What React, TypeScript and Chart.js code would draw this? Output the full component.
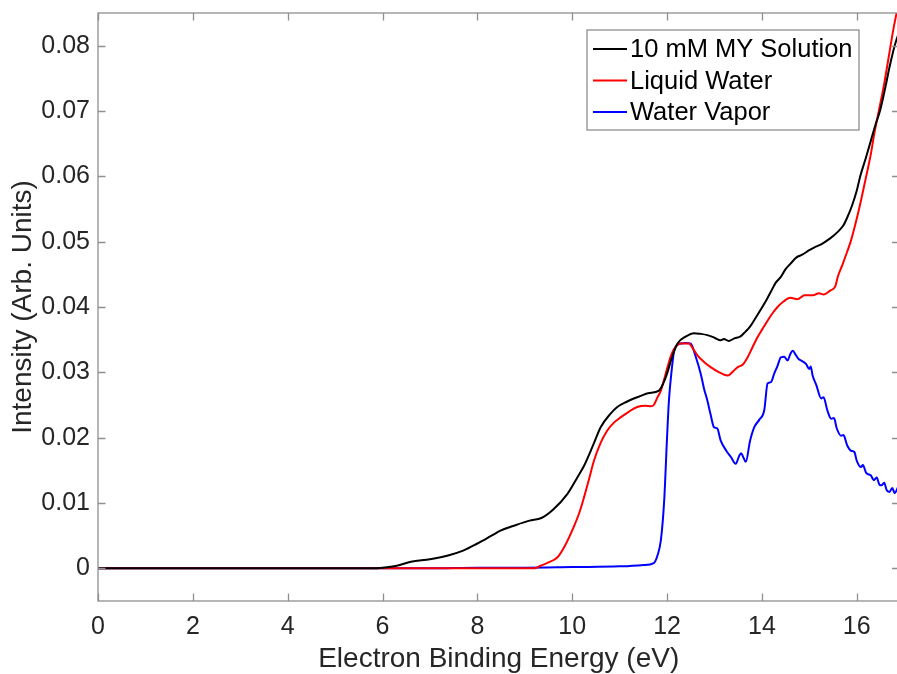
import React, { useEffect, useRef } from 'react';
import { Chart, registerables } from 'chart.js';

Chart.register(...registerables);

const X_TICKS = [0, 2, 4, 6, 8, 10, 12, 14, 16];
const Y_TICKS = [0, 0.01, 0.02, 0.03, 0.04, 0.05, 0.06, 0.07, 0.08];
const X_MIN = 0;
const X_MAX = 16.9;
const Y_MIN = -0.005;
const Y_MAX = 0.085;

const SERIES_LABELS = ['10 mM MY Solution', 'Liquid Water', 'Water Vapor'];
const SERIES_COLORS = ['#000000', '#ff0000', '#0000ff'];

const SOLUTION_X = [
  0, 1, 2, 3, 4, 5, 5.8, 6.0, 6.3, 6.6, 7.0, 7.4, 7.7, 8.0, 8.3, 8.5, 8.8, 9.1, 9.35, 9.6,
  9.9, 10.1, 10.25, 10.45, 10.6, 10.8, 10.95, 11.15, 11.3, 11.45, 11.6, 11.83, 11.92, 12.0,
  12.1, 12.22, 12.4, 12.57, 12.7, 12.85, 13.0, 13.13, 13.2, 13.3, 13.42, 13.55, 13.65, 13.75,
  13.84, 13.95, 14.09, 14.2, 14.3, 14.4, 14.5, 14.6, 14.73, 14.85, 15.0, 15.1, 15.25, 15.44,
  15.6, 15.72, 15.8, 15.9, 16.0, 16.07, 16.2, 16.3, 16.4, 16.49, 16.6, 16.7, 16.8, 16.9,
];
const SOLUTION_Y = [
  0, 0, 0, 0, 0, 0, 0, 0.0001, 0.0004, 0.001, 0.0014, 0.002, 0.0027, 0.0038, 0.005, 0.0058,
  0.0066, 0.0073, 0.0077, 0.009, 0.0114, 0.0138, 0.0157, 0.019, 0.0216, 0.0236, 0.0247, 0.0255,
  0.026, 0.0264, 0.0268, 0.0272, 0.0283, 0.0298, 0.0322, 0.0344, 0.0355, 0.036, 0.0359, 0.0357,
  0.0353, 0.0349, 0.0351, 0.0348, 0.0352, 0.0355, 0.0362, 0.037, 0.038, 0.0393, 0.041, 0.0425,
  0.0438, 0.0446, 0.0458, 0.0466, 0.0476, 0.048, 0.0487, 0.0491, 0.0496, 0.0505, 0.0515,
  0.0525, 0.0537, 0.0555, 0.0578, 0.0599, 0.063, 0.0655, 0.068, 0.07, 0.0735, 0.077, 0.08,
  0.0822,
];

const LIQUID_X = [
  0, 1, 2, 3, 4, 5, 6, 7, 8, 9, 9.2, 9.33, 9.5, 9.69, 9.85, 10.03, 10.15, 10.25, 10.36, 10.46,
  10.6, 10.74, 10.88, 11.02, 11.2, 11.37, 11.55, 11.66, 11.72, 11.8, 11.87, 11.95, 12.01, 12.08,
  12.15, 12.29, 12.46, 12.55, 12.64, 12.78, 12.92, 13.1, 13.28, 13.4, 13.49, 13.6, 13.7, 13.8,
  13.91, 14.0, 14.12, 14.22, 14.33, 14.45, 14.6, 14.75, 14.9, 15.08, 15.2, 15.3, 15.44, 15.55,
  15.6, 15.7, 15.8, 15.88, 16.0, 16.09, 16.2, 16.3, 16.37, 16.48, 16.58, 16.68, 16.78, 16.9,
];
const LIQUID_Y = [
  0, 0, 0, 0, 0, 0, 0, 0, 0, 0, 0, 0.0004, 0.0009, 0.0017, 0.0035, 0.0063, 0.0085, 0.0109,
  0.0138, 0.0165, 0.0192, 0.0211, 0.0223, 0.0231, 0.024, 0.0247, 0.0249, 0.0248, 0.025, 0.0262,
  0.0272, 0.0292, 0.0308, 0.0325, 0.0336, 0.0344, 0.0344, 0.0336, 0.0326, 0.0316, 0.0308, 0.03,
  0.0295, 0.0302, 0.0308, 0.0312, 0.0323, 0.0338, 0.0354, 0.0365, 0.0379, 0.039, 0.04, 0.0408,
  0.0414, 0.0412, 0.0418, 0.0418, 0.0421, 0.0419, 0.0425, 0.0432, 0.0446, 0.0465, 0.0485,
  0.0502, 0.0535, 0.0563, 0.06, 0.0635, 0.0665, 0.0705, 0.0742, 0.0785, 0.0828, 0.087,
];

const VAPOR_X = [
  0, 1, 2, 3, 4, 5, 6, 7, 8, 9, 10, 11, 11.5, 11.72, 11.8, 11.87, 11.94, 12.0, 12.04, 12.1,
  12.15, 12.22, 12.29, 12.4, 12.5, 12.6, 12.71, 12.78, 12.85, 12.92, 12.99, 13.06, 13.13, 13.25,
  13.35, 13.45, 13.52, 13.56, 13.62, 13.66, 13.75, 13.84, 13.95, 14.05, 14.12, 14.19, 14.26,
  14.33, 14.4, 14.47, 14.54, 14.6, 14.65, 14.72, 14.78, 14.83, 14.93, 15.0, 15.03, 15.07, 15.15,
  15.25, 15.3, 15.38, 15.46, 15.52, 15.58, 15.67, 15.72, 15.8, 15.88, 15.95, 16.0, 16.09, 16.13,
  16.2, 16.3, 16.36, 16.42, 16.48, 16.52, 16.58, 16.63, 16.69, 16.75, 16.8, 16.87, 16.9,
];
const VAPOR_Y = [
  0, 0, 0, 0, 0, 0, 0, 0, 0.0001, 0.0001, 0.0002, 0.0003, 0.0005, 0.0008, 0.002, 0.0043, 0.0104,
  0.02, 0.0257, 0.0305, 0.0333, 0.0342, 0.0344, 0.0345, 0.0344, 0.0325, 0.0298, 0.0275, 0.0257,
  0.0235, 0.0216, 0.0214, 0.0196, 0.018, 0.017, 0.016, 0.0172, 0.0176, 0.0168, 0.0163, 0.0195,
  0.0216, 0.0228, 0.0242, 0.0283, 0.0285, 0.0298, 0.031, 0.0323, 0.0324, 0.0318, 0.0328, 0.0333,
  0.0326, 0.032, 0.0318, 0.0313, 0.0305, 0.0309, 0.0295, 0.028, 0.026, 0.0262, 0.0242, 0.0229,
  0.023, 0.0214, 0.0203, 0.0204, 0.0188, 0.018, 0.0178, 0.0165, 0.0155, 0.0158, 0.0146, 0.0142,
  0.0135, 0.0139, 0.0128, 0.0127, 0.0131, 0.012, 0.0117, 0.0123, 0.0115, 0.0124, 0.0128,
];

const FONT = '"Liberation Sans", Arial, Helvetica, sans-serif';
const TEXT_COLOR = '#262626';
const FRAME_COLOR = '#8f8f8f';

const toPoints = (xs: number[], ys: number[]) => xs.map((x, i) => ({ x, y: ys[i] }));

const framePlugin = {
  id: 'matlabFrame',
  afterDatasetsDraw(chart: any) {
    const { ctx, chartArea: a, scales } = chart;
    ctx.save();
    ctx.strokeStyle = FRAME_COLOR;
    ctx.lineWidth = 1.3;
    ctx.strokeRect(a.left, a.top, a.right - a.left, a.bottom - a.top);
    const L = 7.5;
    ctx.beginPath();
    X_TICKS.forEach((v) => {
      const px = Math.round(scales.x.getPixelForValue(v)) + 0.5;
      ctx.moveTo(px, a.bottom);
      ctx.lineTo(px, a.bottom - L);
      ctx.moveTo(px, a.top);
      ctx.lineTo(px, a.top + L);
    });
    Y_TICKS.forEach((v) => {
      const py = Math.round(scales.y.getPixelForValue(v)) + 0.5;
      ctx.moveTo(a.left, py);
      ctx.lineTo(a.left + L, py);
      ctx.moveTo(a.right, py);
      ctx.lineTo(a.right - L, py);
    });
    ctx.stroke();
    ctx.restore();
  },
};

const legendPlugin = {
  id: 'insideLegend',
  afterDraw(chart: any) {
    const { ctx, chartArea: a } = chart;
    const left = a.left + 489;
    const top = a.top + 17;
    const w = 272;
    const h = 100;
    ctx.save();
    ctx.fillStyle = '#ffffff';
    ctx.fillRect(left, top, w, h);
    ctx.strokeStyle = FRAME_COLOR;
    ctx.lineWidth = 1.3;
    ctx.strokeRect(left, top, w, h);
    ctx.font = `25.5px ${FONT}`;
    ctx.textBaseline = 'middle';
    ctx.textAlign = 'left';
    chart.data.datasets.forEach((ds: any, i: number) => {
      const y = top + 19 + i * 31.5;
      ctx.strokeStyle = ds.borderColor;
      ctx.lineWidth = 2;
      ctx.beginPath();
      ctx.moveTo(left + 6, y);
      ctx.lineTo(left + 40, y);
      ctx.stroke();
      ctx.fillStyle = '#000000';
      ctx.fillText(ds.label, left + 43, y + 1);
    });
    ctx.restore();
  },
};

export default function App() {
  const canvasRef = useRef<HTMLCanvasElement | null>(null);

  useEffect(() => {
    const canvas = canvasRef.current;
    if (!canvas) return;
    const xs = [SOLUTION_X, LIQUID_X, VAPOR_X];
    const ys = [SOLUTION_Y, LIQUID_Y, VAPOR_Y];
    const chart = new Chart(canvas, {
      type: 'line',
      data: {
        datasets: SERIES_LABELS.map((label, i) => ({
          label,
          data: toPoints(xs[i], ys[i]),
          borderColor: SERIES_COLORS[i],
          backgroundColor: SERIES_COLORS[i],
          borderWidth: 2,
          pointRadius: 0,
          cubicInterpolationMode: 'monotone' as const,
          fill: false,
        })),
      },
      options: {
        responsive: false,
        animation: false,
        devicePixelRatio: 1,
        layout: { padding: { left: 0, top: 13, right: 60.6, bottom: 0 } },
        plugins: {
          legend: { display: false },
          tooltip: { enabled: false },
        },
        scales: {
          x: {
            type: 'linear',
            min: X_MIN,
            max: X_MAX,
            afterBuildTicks: (s: any) => {
              s.ticks = X_TICKS.map((v) => ({ value: v }));
            },
            afterFit: (s: any) => {
              s.height = 73;
              s.paddingLeft = 0;
              s.paddingRight = 0;
            },
            grid: { display: false, drawTicks: false },
            border: { display: false },
            ticks: {
              autoSkip: false,
              maxRotation: 0,
              padding: 11,
              color: TEXT_COLOR,
              font: { family: FONT, size: 25 },
              callback: (v: any) => String(v),
            },
            title: {
              display: true,
              text: 'Electron Binding Energy (eV)',
              color: TEXT_COLOR,
              font: { family: FONT, size: 28, lineHeight: 1 },
              padding: { top: 0, bottom: 1 },
            },
          },
          y: {
            type: 'linear',
            min: Y_MIN,
            max: Y_MAX,
            afterBuildTicks: (s: any) => {
              s.ticks = Y_TICKS.map((v) => ({ value: v }));
            },
            afterFit: (s: any) => {
              s.width = 98;
              s.paddingTop = 0;
              s.paddingBottom = 0;
            },
            grid: { display: false, drawTicks: false },
            border: { display: false },
            ticks: {
              autoSkip: false,
              padding: 8,
              color: TEXT_COLOR,
              font: { family: FONT, size: 25 },
              callback: (v: any) => (Number(v) === 0 ? '0' : Number(v).toFixed(2)),
            },
            title: {
              display: true,
              text: 'Intensity (Arb. Units)',
              color: TEXT_COLOR,
              font: { family: FONT, size: 28, lineHeight: 1 },
              padding: { top: 9, bottom: 0 },
            },
          },
        },
      },
      plugins: [framePlugin, legendPlugin],
    });
    return () => chart.destroy();
  }, []);

  return (
    <div
      style={{
        position: 'fixed',
        left: 0,
        top: 0,
        width: 897,
        height: 674,
        overflow: 'hidden',
        background: '#ffffff',
      }}
    >
      <canvas ref={canvasRef} width={960} height={674} style={{ width: 960, height: 674, display: 'block' }} />
    </div>
  );
}
